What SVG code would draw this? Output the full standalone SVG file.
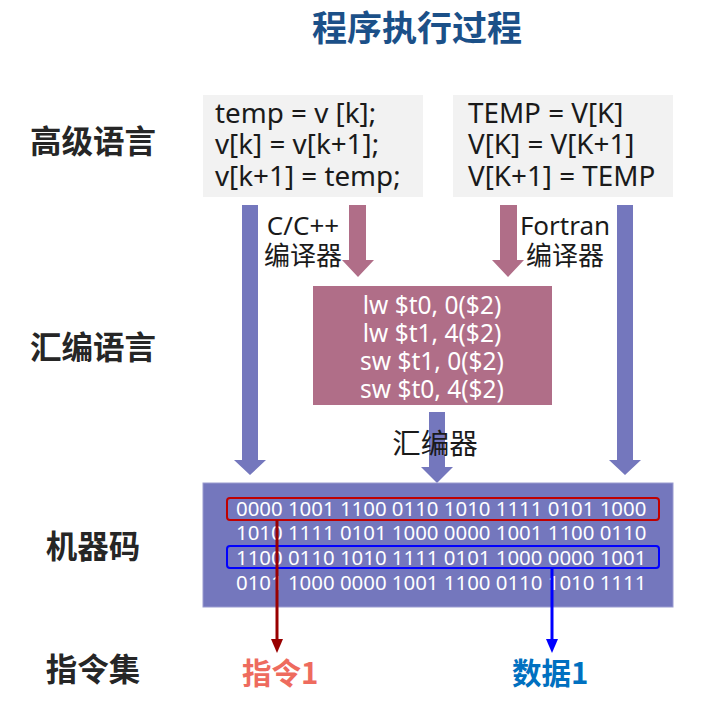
<svg xmlns="http://www.w3.org/2000/svg" width="712" height="728" viewBox="0 0 712 728">
<defs>
<style>
text{font-family:"Noto Sans","Noto Sans CJK SC",sans-serif}
.cjk{font-family:"Noto Sans CJK SC","Noto Sans",sans-serif}
.title{font-size:35px;font-weight:bold;fill:#1B5088}
.side{font-size:31.5px;font-weight:bold;fill:#262626}
.code{font-size:27.8px;fill:#1a1a1a}
.asm{font-size:24.5px;fill:#ffffff}
.lbl{font-size:26px;fill:#1a1a1a}
.bin{font-size:20.4px;fill:#ffffff}
.blue{fill:#7477BD}
.pink{fill:#B06E88}
</style>
<marker id="mRed" viewBox="0 0 14 12" refX="14" refY="6" markerWidth="14" markerHeight="12" markerUnits="userSpaceOnUse" orient="auto">
<path d="M0,0 L14,6 L0,12 Z" fill="#990000"/>
</marker>
<marker id="mBlue" viewBox="0 0 14 12" refX="14" refY="6" markerWidth="14" markerHeight="12" markerUnits="userSpaceOnUse" orient="auto">
<path d="M0,0 L14,6 L0,12 Z" fill="#0000FF"/>
</marker>
</defs>
<rect width="712" height="728" fill="#ffffff"/>

<text class="title cjk" x="417" y="41" text-anchor="middle">程序执行过程</text>

<g id="side-labels">
<text class="side cjk" x="93" y="153" text-anchor="middle">高级语言</text>
<text class="side cjk" x="93" y="359" text-anchor="middle">汇编语言</text>
<text class="side cjk" x="93" y="558" text-anchor="middle">机器码</text>
<text class="side cjk" x="93" y="681" text-anchor="middle">指令集</text>
</g>

<g id="connectors">
<path class="blue" d="M242,205 H258 V460 H266 L250,475 L234,460 H242 Z"/>
<path class="blue" d="M617,205 H633 V460 H641 L625,475 L609,460 H617 Z"/>
<path class="pink" d="M349,205 H366 V260 H374 L358,277 L342,260 H349 Z"/>
<path class="pink" d="M500,205 H517 V260 H524 L508,277 L492,260 H500 Z"/>
<path class="blue" d="M429,412 H445 V467 H453 L437,483 L421,467 H429 Z"/>
</g>

<g id="node-c-code">
<rect x="203" y="95" width="220" height="102" fill="#F2F2F2"/>
<text class="code" x="215" y="123">temp = v [k];</text>
<text class="code" x="215" y="154">v[k] = v[k+1];</text>
<text class="code" x="215" y="186">v[k+1] = temp;</text>
</g>

<g id="node-fortran-code">
<rect x="453" y="95" width="220" height="102" fill="#F2F2F2"/>
<text class="code" x="468" y="123">TEMP = V[K]</text>
<text class="code" x="468" y="154">V[K] = V[K+1]</text>
<text class="code" x="468" y="186">V[K+1] = TEMP</text>
</g>

<g id="label-c-compiler">
<text class="lbl" x="303" y="235" text-anchor="middle">C/C++</text>
<text class="lbl cjk" x="303" y="265" text-anchor="middle">编译器</text>
</g>

<g id="label-fortran-compiler">
<text class="lbl" x="565" y="235" text-anchor="middle">Fortran</text>
<text class="lbl cjk" x="565" y="265" text-anchor="middle">编译器</text>
</g>

<g id="node-assembly">
<rect x="313" y="286" width="239" height="119" fill="#B06E88"/>
<text class="asm" x="432" y="314" text-anchor="middle">lw $t0, 0($2)</text>
<text class="asm" x="432" y="342" text-anchor="middle">lw $t1, 4($2)</text>
<text class="asm" x="432" y="370" text-anchor="middle">sw $t1, 0($2)</text>
<text class="asm" x="432" y="398" text-anchor="middle">sw $t0, 4($2)</text>
</g>

<g id="label-assembler">
<text class="lbl cjk" x="435" y="454" text-anchor="middle" style="font-size:28.5px">汇编器</text>
</g>

<g id="node-machine-code">
<rect x="203" y="483" width="470" height="124" fill="#7477BD" stroke="#9A9CD0" stroke-width="1"/>
<text class="bin" x="236" y="516">0000 1001 1100 0110 1010 1111 0101 1000</text>
<text class="bin" x="236" y="540">1010 1111 0101 1000 0000 1001 1100 0110</text>
<text class="bin" x="236" y="565">1100 0110 1010 1111 0101 1000 0000 1001</text>
<text class="bin" x="236" y="590">0101 1000 0000 1001 1100 0110 1010 1111</text>
<rect x="227" y="498" width="432" height="22" rx="3" fill="none" stroke="#C00000" stroke-width="2"/>
<rect x="227" y="546" width="432" height="22" rx="3" fill="none" stroke="#0000FF" stroke-width="2"/>
</g>

<g id="connectors-fields">
<line x1="277" y1="520" x2="277" y2="642" stroke="#990000" stroke-width="3"/>
<path d="M271,639 L283,639 L277,653 Z" fill="#990000"/>
<line x1="552" y1="568" x2="552" y2="642" stroke="#0000FF" stroke-width="3"/>
<path d="M546,639 L558,639 L552,653 Z" fill="#0000FF"/>
</g>

<g id="node-instruction">
<text class="cjk" x="242" y="684" style="font-size:29.5px;font-weight:bold;fill:#EE6B5E">指令1</text>
</g>
<g id="node-data">
<text class="cjk" x="512" y="684" style="font-size:29.5px;font-weight:bold;fill:#0070C0">数据1</text>
</g>
</svg>
